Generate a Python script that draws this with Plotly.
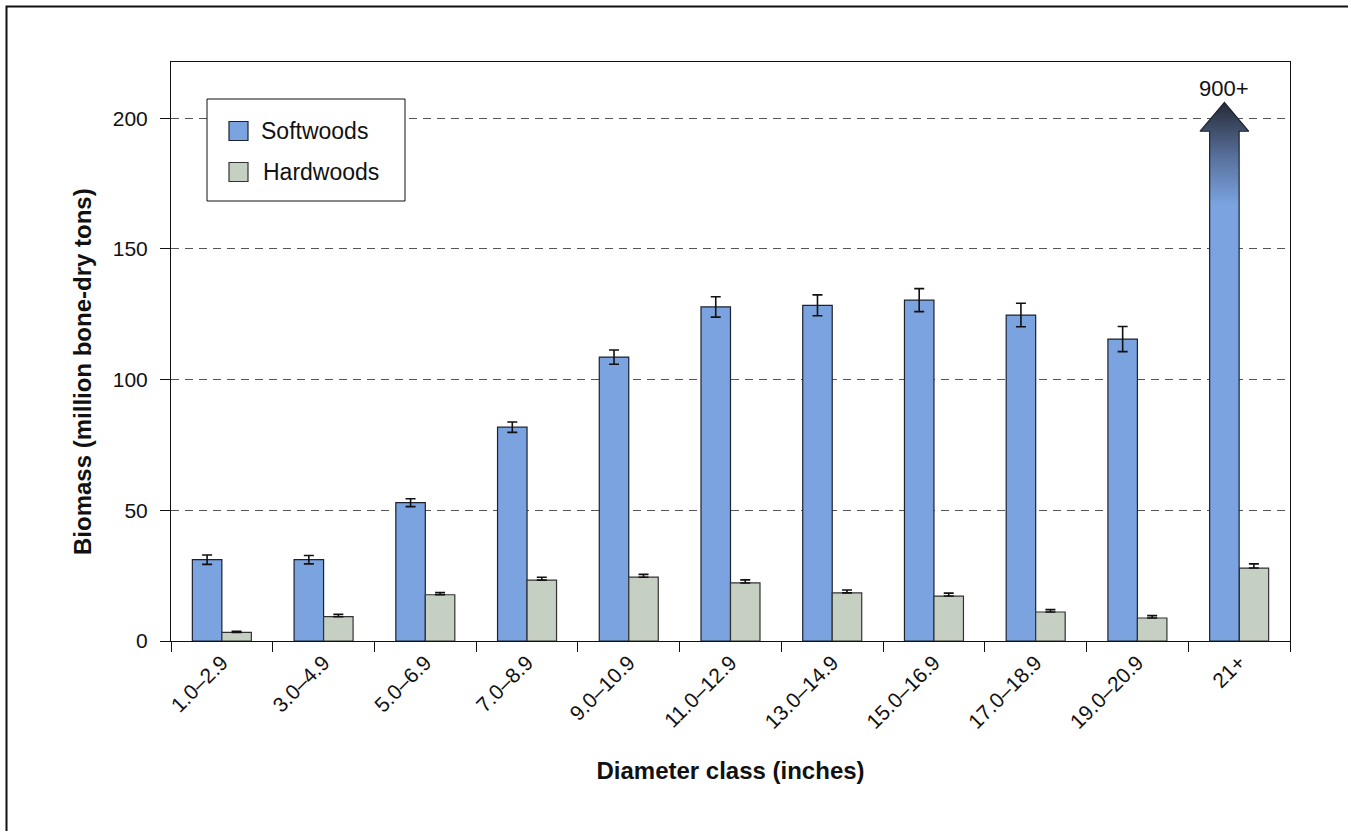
import plotly.graph_objects as go

# ---- data ----
categories = ["1.0–2.9", "3.0–4.9", "5.0–6.9", "7.0–8.9", "9.0–10.9", "11.0–12.9",
              "13.0–14.9", "15.0–16.9", "17.0–18.9", "19.0–20.9", "21+"]
series_names = ["Softwoods", "Hardwoods"]
softwoods = [31.1, 31.1, 52.9, 81.8, 108.6, 127.8, 128.4, 130.4, 124.7, 115.5, None]
softwoods_err = [1.8, 1.6, 1.5, 2.0, 2.7, 3.9, 4.0, 4.4, 4.5, 4.8, 0]
hardwoods = [3.3, 9.3, 17.7, 23.3, 24.4, 22.2, 18.4, 17.2, 11.1, 8.8, 27.9]
hardwoods_err = [0.4, 0.9, 0.8, 1.1, 1.1, 1.2, 1.1, 1.1, 0.9, 0.9, 1.6]
offscale_label = "900+"          # 21+ softwoods value is off the scale
offscale_shaft_top = 195         # arrow shaft top (axis units)
offscale_tip = 206               # arrow tip (axis units)
y_ticks = [0, 50, 100, 150, 200]

# ---- style ----
BLUE = "#7aa3df"
GREEN = "#c5cfc2"
FONT = "Arial, Liberation Sans, sans-serif"
BARGAP = 0.42
bar_w = (1 - BARGAP) / 2
W, H = 1348, 831
L, R, T, B = 171, 58, 62, 190
PW, PH = W - L - R, H - T - B


def px(xpix):
    return (xpix - L) / PW


def py(ypix):
    return 1 - (ypix - T) / PH


fig = go.Figure()
fig.add_trace(go.Bar(
    x=categories, y=softwoods, name=series_names[0],
    marker=dict(color=BLUE, line=dict(color="#1c2230", width=1.2)),
    error_y=dict(type="data", array=softwoods_err, color="#111", thickness=1.6, width=5),
    showlegend=False))
fig.add_trace(go.Bar(
    x=categories, y=hardwoods, name=series_names[1],
    marker=dict(color=GREEN, line=dict(color="#333", width=1.2)),
    error_y=dict(type="data", array=hardwoods_err, arrayminus=[0] * len(hardwoods_err),
                 color="#111", thickness=1.6, width=5),
    showlegend=False))

# arrow for the off-scale 21+ softwoods bar, on an overlaying linear axis
i = len(categories) - 1
cx = i - bar_w / 2
hw = 0.24
ax = [cx - bar_w / 2, cx - bar_w / 2, cx - hw, cx, cx + hw, cx + bar_w / 2, cx + bar_w / 2, cx - bar_w / 2]
ay = [0, offscale_shaft_top, offscale_shaft_top, offscale_tip, offscale_shaft_top,
      offscale_shaft_top, 0, 0]
fig.add_trace(go.Scatter(
    x=ax, y=ay, xaxis="x2", mode="lines", fill="toself",
    line=dict(color="#1c2230", width=1.2),
    fillgradient=dict(type="vertical", start=0, stop=offscale_tip,
                      colorscale=[[0, BLUE], [0.81, BLUE], [0.9, "#58709c"], [1, "#262b36"]]),
    showlegend=False, hoverinfo="skip"))
fig.add_annotation(x=cx, y=offscale_tip, xref="x2", yref="y", text=offscale_label,
                   showarrow=False, yanchor="bottom", font=dict(size=22, color="#111", family=FONT))

# legend (box, swatches, labels)
fig.add_shape(type="rect", xref="paper", yref="paper", x0=px(207), x1=px(405), y0=py(201), y1=py(99),
              line=dict(color="#111", width=1), fillcolor="white")
for k, (name, col, lc) in enumerate(zip(series_names, [BLUE, GREEN], ["#1c2230", "#333"])):
    yc = 131 + 41 * k
    fig.add_shape(type="rect", xref="paper", yref="paper", x0=px(229), x1=px(248),
                  y0=py(yc + 9.5), y1=py(yc - 9.5), line=dict(color=lc, width=1.2), fillcolor=col)
    fig.add_annotation(x=px(259 + 2 * k), y=py(yc), xref="paper", yref="paper", text=name,
                       showarrow=False, xanchor="left", yanchor="middle",
                       font=dict(size=23, color="#111", family=FONT))

# y axis title
fig.add_annotation(x=px(82), y=py(372), xref="paper", yref="paper",
                   text="<b>Biomass (million bone-dry tons)</b>", textangle=-90,
                   showarrow=False, xanchor="center", yanchor="middle",
                   font=dict(size=24, color="#111", family=FONT))

fig.update_layout(
    width=W, height=H,
    margin=dict(l=L, r=R, t=T, b=B),
    paper_bgcolor="white", plot_bgcolor="white",
    barmode="group", bargap=BARGAP, bargroupgap=0,
    font=dict(family=FONT, color="#111", size=20),
    showlegend=False,
    xaxis=dict(type="category", range=[-0.5, len(categories) - 0.5],
               showline=True, linecolor="#111", linewidth=1, mirror=True,
               ticks="outside", tickson="boundaries", ticklen=10, tickcolor="#111",
               tickangle=-45, tickfont=dict(size=21),
               title=dict(text="<b>Diameter class (inches)</b>", font=dict(size=24), standoff=30)),
    xaxis2=dict(overlaying="x", range=[-0.5, len(categories) - 0.5], visible=False),
    yaxis=dict(range=[0, 221.5], tickvals=y_ticks,
               showline=True, linecolor="#111", linewidth=1, mirror=True,
               ticks="outside", ticklen=10, tickcolor="#111", tickfont=dict(size=21),
               ticklabelstandoff=8,
               showgrid=True, gridcolor="#555", griddash="8px,6px", gridwidth=1,
               zeroline=False),
)

# outer frame (only top and left edges fall inside the picture)
fig.add_shape(type="rect", xref="paper", yref="paper",
              x0=px(6.5), x1=px(W + 20), y0=py(H + 20), y1=py(6.5),
              line=dict(color="#111", width=2), fillcolor="rgba(0,0,0,0)", layer="below")

fig.write_html("out.html", config={"displayModeBar": False},
               post_script="document.body.style.margin='0';")
